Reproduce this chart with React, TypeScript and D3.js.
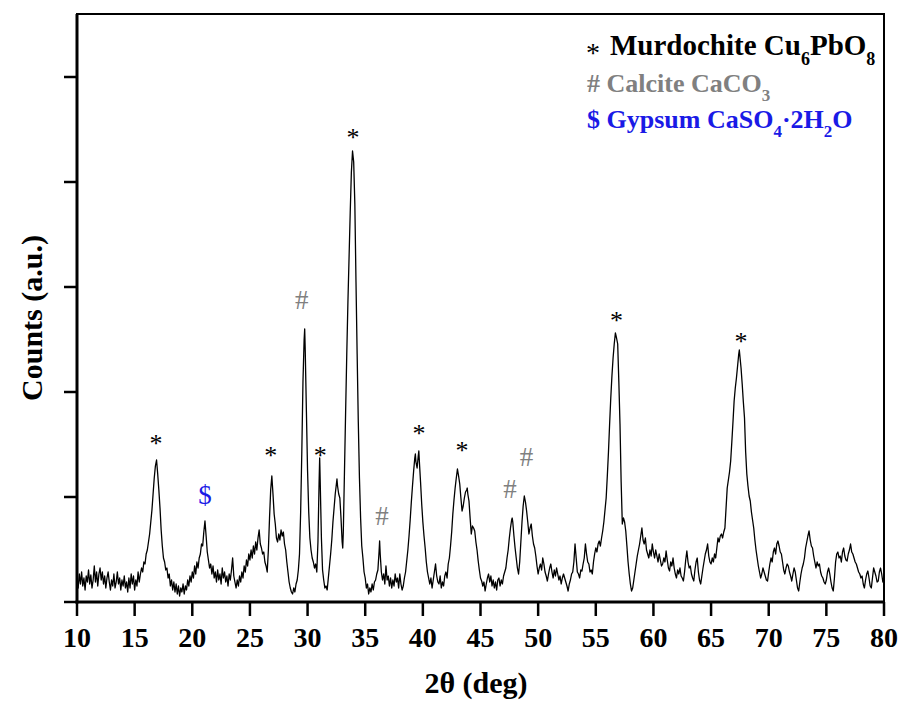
import React from "react";
import * as d3 from "d3";

// ---- data: XRD pattern [2theta (deg), counts (a.u.)] ----
const pattern: [number, number][] = [
  [10.0,22],[10.1,14],[10.2,28],[10.3,18],[10.4,30],[10.5,16],[10.6,24],[10.7,12],[10.8,26],[10.9,20],
  [11.0,32],[11.1,18],[11.2,27],[11.3,14],[11.4,22],[11.5,36],[11.6,20],[11.7,30],[11.8,16],[11.9,28],
  [12.0,34],[12.1,22],[12.2,30],[12.3,18],[12.4,26],[12.5,14],[12.6,24],[12.7,30],[12.8,20],[12.9,12],
  [13.0,22],[13.1,16],[13.2,28],[13.3,14],[13.4,20],[13.5,30],[13.6,18],[13.7,24],[13.8,12],[13.9,22],
  [14.0,16],[14.1,26],[14.2,14],[14.3,20],[14.4,10],[14.5,24],[14.6,14],[14.7,28],[14.8,18],[14.9,26],
  [15.0,12],[15.1,22],[15.2,16],[15.3,30],[15.4,20],[15.5,28],[15.6,34],[15.7,30],[15.8,40],[15.9,38],
  [16.0,48],[16.1,52],[16.2,60],[16.3,68],[16.4,80],[16.5,92],[16.6,108],[16.7,124],[16.8,136],[16.9,142],
  [17.0,128],[17.1,112],[17.2,94],[17.3,72],[17.4,56],[17.5,44],[17.6,40],[17.7,32],[17.8,34],[17.9,24],
  [18.0,28],[18.1,16],[18.2,22],[18.3,12],[18.4,20],[18.5,10],[18.6,18],[18.7,8],[18.8,16],[18.9,6],
  [19.0,14],[19.1,10],[19.2,18],[19.3,8],[19.4,16],[19.5,12],[19.6,22],[19.7,16],[19.8,26],[19.9,20],
  [20.0,30],[20.1,24],[20.2,36],[20.3,28],[20.4,40],[20.5,34],[20.6,44],[20.7,48],[20.8,58],[20.9,56],
  [21.0,70],[21.1,81],[21.2,66],[21.3,50],[21.4,42],[21.5,34],[21.6,38],[21.7,28],[21.8,36],[21.9,24],
  [22.0,30],[22.1,20],[22.2,32],[22.3,22],[22.4,28],[22.5,18],[22.6,34],[22.7,24],[22.8,30],[22.9,20],
  [23.0,26],[23.1,16],[23.2,28],[23.3,22],[23.4,32],[23.5,44],[23.6,26],[23.7,20],[23.8,14],[23.9,22],
  [24.0,16],[24.1,26],[24.2,20],[24.3,30],[24.4,24],[24.5,36],[24.6,30],[24.7,42],[24.8,36],[24.9,48],
  [25.0,42],[25.1,52],[25.2,44],[25.3,56],[25.4,48],[25.5,60],[25.6,52],[25.7,64],[25.8,72],[25.9,58],
  [26.0,54],[26.1,48],[26.2,50],[26.3,40],[26.4,36],[26.5,30],[26.6,52],[26.7,84],[26.8,112],[26.9,126],
  [27.0,108],[27.1,88],[27.2,78],[27.3,64],[27.4,60],[27.5,68],[27.6,62],[27.7,72],[27.8,66],[27.9,70],
  [28.0,58],[28.1,52],[28.2,40],[28.3,30],[28.4,20],[28.5,14],[28.6,10],[28.7,8],[28.8,14],[28.9,10],
  [29.0,18],[29.1,22],[29.2,32],[29.3,48],[29.4,90],[29.5,150],[29.6,220],[29.7,262],[29.75,273],[29.8,250],
  [29.9,190],[30.0,131],[30.1,90],[30.2,64],[30.3,52],[30.4,44],[30.5,40],[30.6,34],[30.7,38],[30.8,30],
  [30.9,60],[31.0,120],[31.05,144],[31.1,118],[31.2,64],[31.3,32],[31.4,22],[31.5,14],[31.6,16],[31.7,12],
  [31.8,24],[31.9,36],[32.0,48],[32.1,62],[32.2,80],[32.3,94],[32.4,108],[32.5,118],[32.55,123],[32.6,116],
  [32.7,108],[32.8,104],[32.9,84],[33.0,60],[33.05,54],[33.1,70],[33.2,130],[33.3,190],[33.4,248],[33.5,300],
  [33.6,345],[33.7,390],[33.8,430],[33.9,451],[34.0,440],[34.1,398],[34.2,320],[34.3,248],[34.4,180],[34.5,124],
  [34.6,84],[34.7,56],[34.8,44],[34.9,30],[35.0,24],[35.1,14],[35.2,18],[35.3,8],[35.4,14],[35.5,10],
  [35.6,18],[35.7,12],[35.8,20],[35.9,22],[36.0,28],[36.1,32],[36.2,50],[36.25,61],[36.3,48],[36.4,30],
  [36.5,22],[36.6,28],[36.7,18],[36.8,36],[36.9,22],[37.0,26],[37.1,16],[37.2,24],[37.3,14],[37.4,22],
  [37.5,16],[37.6,28],[37.7,20],[37.8,24],[37.9,14],[38.0,28],[38.1,18],[38.2,12],[38.3,16],[38.4,24],
  [38.5,30],[38.6,41],[38.7,52],[38.8,66],[38.9,82],[39.0,100],[39.1,116],[39.2,131],[39.3,144],[39.35,148],
  [39.4,140],[39.5,134],[39.6,146],[39.65,151],[39.7,140],[39.8,120],[39.9,98],[40.0,80],[40.1,66],[40.2,54],
  [40.3,40],[40.4,30],[40.5,24],[40.6,18],[40.7,24],[40.8,14],[40.9,22],[41.0,30],[41.1,38],[41.2,26],
  [41.3,20],[41.4,18],[41.5,26],[41.6,14],[41.7,20],[41.8,16],[41.9,26],[42.0,30],[42.1,24],[42.2,38],
  [42.3,44],[42.4,56],[42.5,70],[42.6,88],[42.7,102],[42.8,114],[42.9,124],[43.0,133],[43.1,126],[43.2,118],
  [43.3,104],[43.4,91],[43.5,96],[43.6,104],[43.7,110],[43.8,112],[43.85,114],[43.9,108],[44.0,101],[44.1,84],
  [44.2,68],[44.3,76],[44.4,74],[44.5,71],[44.6,60],[44.7,52],[44.8,41],[44.9,32],[45.0,24],[45.1,21],
  [45.2,16],[45.3,20],[45.4,11],[45.5,18],[45.6,24],[45.7,28],[45.8,20],[45.9,26],[46.0,16],[46.1,22],
  [46.2,14],[46.3,20],[46.4,12],[46.5,22],[46.6,24],[46.7,16],[46.8,22],[46.9,18],[47.0,26],[47.1,30],
  [47.2,34],[47.3,44],[47.4,52],[47.5,64],[47.6,74],[47.7,82],[47.75,84],[47.8,80],[47.9,66],[48.0,54],
  [48.1,44],[48.2,34],[48.3,28],[48.4,40],[48.5,60],[48.6,80],[48.7,96],[48.8,106],[48.9,100],[49.0,91],
  [49.1,80],[49.2,68],[49.3,74],[49.4,78],[49.5,66],[49.6,58],[49.7,54],[49.8,46],[49.9,36],[50.0,28],
  [50.1,34],[50.2,38],[50.3,32],[50.4,44],[50.5,38],[50.6,30],[50.7,26],[50.8,21],[50.9,28],[51.0,34],
  [51.1,38],[51.2,30],[51.3,24],[51.4,32],[51.5,26],[51.6,34],[51.7,28],[51.8,22],[51.9,26],[52.0,18],
  [52.1,24],[52.2,28],[52.3,24],[52.4,20],[52.5,16],[52.6,11],[52.7,18],[52.8,22],[52.9,28],[53.0,30],
  [53.1,40],[53.2,58],[53.3,44],[53.4,30],[53.5,28],[53.6,24],[53.7,32],[53.8,31],[53.9,38],[54.0,44],
  [54.1,58],[54.2,48],[54.3,40],[54.4,38],[54.5,30],[54.6,32],[54.7,28],[54.8,40],[54.9,48],[55.0,54],
  [55.1,50],[55.2,58],[55.3,61],[55.4,56],[55.5,64],[55.6,71],[55.7,80],[55.8,92],[55.9,104],[56.0,126],
  [56.1,150],[56.2,178],[56.3,204],[56.4,226],[56.5,244],[56.6,258],[56.7,269],[56.8,264],[56.9,258],[57.0,220],
  [57.1,178],[57.2,120],[57.3,78],[57.4,84],[57.5,80],[57.6,71],[57.7,56],[57.8,40],[57.9,28],[58.0,18],
  [58.1,11],[58.2,14],[58.3,22],[58.4,30],[58.5,38],[58.6,46],[58.7,52],[58.8,58],[58.9,66],[59.0,74],
  [59.1,62],[59.2,58],[59.3,64],[59.4,52],[59.5,48],[59.6,44],[59.7,52],[59.8,46],[59.9,58],[60.0,50],
  [60.1,44],[60.2,52],[60.3,46],[60.4,40],[60.5,48],[60.6,42],[60.7,36],[60.8,38],[60.9,44],[61.0,40],
  [61.1,51],[61.2,42],[61.3,34],[61.4,31],[61.5,40],[61.6,36],[61.7,44],[61.8,34],[61.9,28],[62.0,24],
  [62.1,32],[62.2,28],[62.3,34],[62.4,26],[62.5,24],[62.6,21],[62.7,30],[62.8,42],[62.9,51],[63.0,40],
  [63.1,34],[63.2,36],[63.3,28],[63.4,24],[63.5,21],[63.6,32],[63.7,40],[63.8,44],[63.9,30],[64.0,22],
  [64.1,18],[64.2,26],[64.3,34],[64.4,41],[64.5,48],[64.6,52],[64.7,58],[64.8,46],[64.9,40],[65.0,38],
  [65.1,44],[65.2,40],[65.3,48],[65.4,44],[65.5,54],[65.6,64],[65.7,60],[65.8,66],[65.9,68],[66.0,64],
  [66.1,70],[66.2,74],[66.3,94],[66.4,114],[66.5,122],[66.6,130],[66.7,141],[66.8,160],[66.9,180],[67.0,201],
  [67.1,214],[67.2,224],[67.3,236],[67.4,248],[67.45,252],[67.5,246],[67.6,234],[67.7,218],[67.8,200],[67.9,184],
  [68.0,150],[68.1,128],[68.2,116],[68.3,106],[68.4,101],[68.5,90],[68.6,82],[68.7,74],[68.8,62],[68.9,52],
  [69.0,44],[69.1,36],[69.2,30],[69.3,24],[69.4,28],[69.5,34],[69.6,30],[69.7,26],[69.8,22],[69.9,21],
  [70.0,30],[70.1,38],[70.2,44],[70.3,40],[70.4,50],[70.5,54],[70.6,48],[70.7,58],[70.8,61],[70.9,56],
  [71.0,50],[71.1,48],[71.2,40],[71.3,32],[71.4,28],[71.5,34],[71.6,38],[71.7,36],[71.8,30],[71.9,26],
  [72.0,21],[72.1,28],[72.2,34],[72.3,30],[72.4,22],[72.5,14],[72.6,11],[72.7,20],[72.8,28],[72.9,34],
  [73.0,38],[73.1,44],[73.2,54],[73.3,60],[73.4,66],[73.5,71],[73.6,62],[73.7,56],[73.8,54],[73.9,46],
  [74.0,40],[74.1,34],[74.2,40],[74.3,36],[74.4,38],[74.5,30],[74.6,26],[74.7,24],[74.8,20],[74.9,18],
  [75.0,22],[75.1,30],[75.2,34],[75.3,28],[75.4,20],[75.5,14],[75.6,11],[75.7,24],[75.8,40],[75.9,48],
  [76.0,50],[76.1,44],[76.2,46],[76.3,40],[76.4,50],[76.5,54],[76.6,46],[76.7,42],[76.8,41],[76.9,48],
  [77.0,52],[77.1,58],[77.2,50],[77.3,48],[77.4,44],[77.5,40],[77.6,38],[77.7,34],[77.8,30],[77.9,28],
  [78.0,24],[78.1,26],[78.2,18],[78.3,14],[78.4,22],[78.5,28],[78.6,31],[78.7,24],[78.8,16],[78.9,14],
  [79.0,24],[79.1,34],[79.2,30],[79.3,26],[79.4,20],[79.5,21],[79.6,30],[79.7,34],[79.8,28],[79.9,20],
  [80.0,26],
];

// peak markers: position (deg), label height (counts), symbol
const markerTheta = [16.85, 21.1, 26.8, 29.5, 31.1, 33.95, 36.45, 39.66, 43.4, 47.55, 49.0, 56.8, 67.6];
const markerLevel = [164, 107, 152, 302, 152, 470, 86, 174, 157, 113, 145, 287, 266];
const markerSymbol = ["*", "$", "*", "#", "*", "*", "#", "*", "*", "#", "#", "*", "*"];

const xTicks = [10, 15, 20, 25, 30, 35, 40, 45, 50, 55, 60, 65, 70, 75, 80];
const yTicks = [0, 105, 210, 315, 420, 525];

const W = 903, H = 715;
const M = { left: 77, right: 884, top: 14, bottom: 602 };
const FONT = "'Liberation Serif', 'Times New Roman', Times, serif";

const symbolColor: Record<string, string> = { "*": "#000000", "#": "#808080", "$": "#1a1ae6" };
const symbolDy: Record<string, number> = { "*": 14, "#": 9, "$": 9 };
const symbolSize: Record<string, number> = { "*": 26, "#": 27, "$": 27 };

export default function App() {
  const x = d3.scaleLinear().domain([10, 80]).range([M.left, M.right]);
  const y = d3.scaleLinear().domain([0, 588]).range([M.bottom, M.top]);
  const line = d3
    .line<[number, number]>()
    .x((d) => x(d[0]))
    .y((d) => y(d[1]));

  return (
    <svg width={W} height={H} style={{ position: "absolute", left: 0, top: 0, background: "#fff" }} fontFamily={FONT}>
      <rect x={0} y={0} width={W} height={H} fill="#fff" />
      <path d={line(pattern) || ""} fill="none" stroke="#000" strokeWidth={1.3} strokeLinejoin="round" />

      {/* frame */}
      <rect x={M.left} y={M.top} width={M.right - M.left} height={M.bottom - M.top} fill="none" stroke="#000" strokeWidth={2} />
      <line x1={M.left} x2={M.left} y1={M.top} y2={M.bottom + 1.5} stroke="#000" strokeWidth={3} />
      <line x1={M.left - 1.5} x2={M.right + 1} y1={M.bottom} y2={M.bottom} stroke="#000" strokeWidth={3} />

      {/* x ticks */}
      {xTicks.map((t) => (
        <g key={"xt" + t}>
          <line x1={x(t)} x2={x(t)} y1={M.bottom} y2={M.bottom + 14} stroke="#000" strokeWidth={2.5} />
          <text x={x(t)} y={647} textAnchor="middle" fontSize={28} fontWeight="bold">
            {t}
          </text>
        </g>
      ))}

      {/* y ticks */}
      {yTicks.map((t) => (
        <line key={"yt" + t} x1={M.left - 13} x2={M.left} y1={y(t)} y2={y(t)} stroke="#000" strokeWidth={2.5} />
      ))}

      {/* axis titles */}
      <text x={476} y={693} textAnchor="middle" fontSize={30} fontWeight="bold">
        2θ (deg)
      </text>
      <text transform="translate(42,318) rotate(-90)" textAnchor="middle" fontSize={30} fontWeight="bold">
        Counts (a.u.)
      </text>

      {/* peak markers */}
      {markerTheta.map((t, i) => {
        const s = markerSymbol[i];
        return (
          <text
            key={"mk" + i}
            x={x(t)}
            y={y(markerLevel[i]) + symbolDy[s]}
            textAnchor="middle"
            fontSize={symbolSize[s]}
            fontWeight="normal"
            fill={symbolColor[s]}
          >
            {s}
          </text>
        );
      })}

      {/* legend */}
      <g fontWeight="bold">
        <text x={593} y={62} textAnchor="middle" fontSize={28} fontWeight="normal" fill="#000">*</text>
        <text x={610} y={55} fontSize={29} fill="#000">
          Murdochite Cu<tspan dy={10} fontSize={18}>6</tspan>
          <tspan dy={-10}>PbO</tspan>
          <tspan dy={10} fontSize={18}>8</tspan>
        </text>
        <text x={587} y={92} fontSize={26} fill="#808080">
          # Calcite CaCO<tspan dy={9} fontSize={17}>3</tspan>
        </text>
        <text x={587} y={128} fontSize={26} fill="#1a1ae6">
          $ Gypsum CaSO<tspan dy={9} fontSize={17}>4</tspan>
          <tspan dy={-9}>·2H</tspan>
          <tspan dy={9} fontSize={17}>2</tspan>
          <tspan dy={-9}>O</tspan>
        </text>
      </g>
    </svg>
  );
}
